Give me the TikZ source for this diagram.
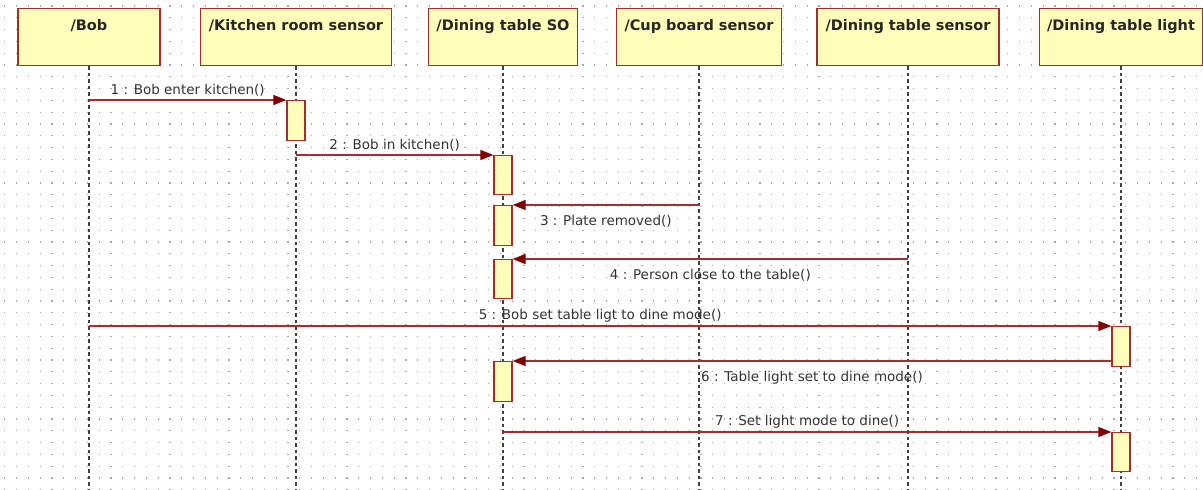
\documentclass[tikz,border=0pt]{standalone}
\usepackage{fontspec}
\setmainfont{DejaVu Sans}
\usetikzlibrary{arrows.meta,positioning,calc}
\definecolor{umlred}{RGB}{165,45,45}
\definecolor{umltip}{RGB}{128,0,0}
\definecolor{umlfill}{RGB}{255,255,187}

\begin{document}
\begin{tikzpicture}[x=1pt, y=-1pt,
  head/.style={draw=umlred, line width=1.4pt, fill=umlfill, anchor=north,
    minimum height=57pt, inner ysep=11pt, text height=11pt, text depth=24pt,
    font=\fontsize{14.5}{17}\selectfont\bfseries, text=black!85},
  act/.style={draw=umlred, line width=1.3pt, fill=umlfill, anchor=north,
    minimum width=18pt, minimum height=40pt, inner sep=0pt},
  life/.style={black!75, line width=1.2pt, dash pattern=on 3.5pt off 3pt},
  msg/.style={umlred, line width=1.3pt, -{Triangle[length=13pt,width=10pt,fill=umltip,color=umltip]}},
  lbl/.style={font=\fontsize{13.5}{16}\selectfont, text=black!80, inner sep=3pt},
  lblb/.style={lbl, below, yshift=-7pt},
  griddot/.style={black!35, line width=1.1pt, dash pattern=on 1.1pt off 10.7pt}]
\useasboundingbox (0,0) rectangle (1203,490);
% dotted background
\foreach \gy in {0,...,41}
  \draw[griddot] (4.2,{6+\gy*11.8}) -- (1203,{6+\gy*11.8});
% objects
\node[head, minimum width=142pt] (bob) at (89,8) {/Bob};
\node[head, minimum width=191pt] (kitchen) at (296,8) {/Kitchen room sensor};
\node[head, minimum width=149pt] (so) at (503,8) {/Dining table SO};
\node[head, minimum width=165pt] (cup) at (699,8) {/Cup board sensor};
\node[head, minimum width=182pt] (sensor) at (908,8) {/Dining table sensor};
\node[head, minimum width=163pt] (light) at (1121,8) {/Dining table light};
% lifelines
\foreach \n in {bob,kitchen,so,cup,sensor,light}
  \draw[life] (\n.south) -- (\n.south |- 0,490);
% activations
\node[act] (act1) at (kitchen.south |- 0,100) {};
\node[act, minimum height=39pt] (act2) at (so.south |- 0,155) {};
\node[act] (act3) at (so.south |- 0,205) {};
\node[act, minimum height=39pt] (act4) at (so.south |- 0,259) {};
\node[act] (act5) at (light.south |- 0,326) {};
\node[act] (act6) at (so.south |- 0,361) {};
\node[act, minimum height=39pt] (act7) at (light.south |- 0,432) {};
% messages
\draw[msg] (bob |- act1.north) -- node[lbl, above]{1 : Bob enter kitchen()} (act1.north west);
\draw[msg] (kitchen |- act2.north) -- node[lbl, above]{2 : Bob in kitchen()} (act2.north west);
\draw[msg] (cup |- act3.north) -- node[lblb]{3 : Plate removed()} (act3.north east);
\draw[msg] (sensor |- act4.north) -- node[lblb]{4 : Person close to the table()} (act4.north east);
\draw[msg] (bob |- act5.north) -- node[lbl, above]{5 : Bob set table ligt to dine mode()} (act5.north west);
\draw[msg] (act5.west |- act6.north) -- node[lblb]{6 : Table light set to dine mode()} (act6.north east);
\draw[msg] (so |- act7.north) -- node[lbl, above]{7 : Set light mode to dine()} (act7.north west);
\end{tikzpicture}
\end{document}
